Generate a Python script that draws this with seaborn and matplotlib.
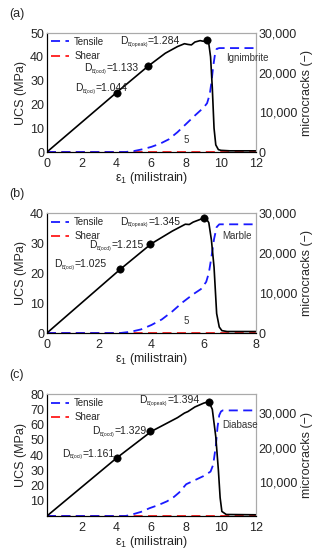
import numpy as np
import pandas as pd
import matplotlib
matplotlib.use("Agg")
import matplotlib.pyplot as plt
import seaborn as sns

sns.set_style("white")
plt.rcParams['font.family'] = ['Liberation Sans', 'DejaVu Sans']
plt.rcParams['mathtext.fontset'] = 'custom'
plt.rcParams['mathtext.rm'] = 'Liberation Sans'
plt.rcParams['mathtext.it'] = 'Liberation Sans'
plt.rcParams['mathtext.default'] = 'regular'

# ---------------- data ----------------
# (a) Ignimbrite
eps_a = [0, 4.0, 5.8, 6.8, 7.5, 7.9, 8.1, 8.3, 8.5, 8.8, 9.0, 9.2, 9.3, 9.4, 9.5, 9.6, 9.7, 9.85, 10.0, 10.5, 12]
ucs_a = [0, 25, 36, 41.5, 44.3, 45.5, 45.2, 45.0, 46.2, 46.8, 46.5, 47, 45.5, 40, 27, 10, 3, 1, 0.7, 0.5, 0.5]
teps_a = [0, 4.5, 5.0, 5.5, 6.0, 6.5, 7.0, 7.5, 8.0, 8.5, 9.0, 9.2, 9.35, 9.45, 9.55, 9.65, 9.75, 9.9, 12]
tens_a = [0, 0, 250, 700, 1300, 2100, 3200, 5000, 7100, 9200, 11200, 12300, 14500, 17500, 21500, 24500, 26000, 26200, 26200]
seps_a = [0, 8, 12]
shear_a = [0, 3, 5]
pts_a = [4.0, 5.8, 9.2]
pucs_a = [25, 36, 47]
lab_a = ["1.044", "1.133", "1.284"]

# (b) Marble
eps_b = [0, 2.8, 4.0, 4.8, 5.3, 5.45, 5.6, 5.9, 6.0, 6.1, 6.2, 6.3, 6.4, 6.5, 6.6, 6.7, 6.9, 8]
ucs_b = [0, 21.2, 29.8, 34, 36.3, 36.2, 37, 38, 38.5, 38.2, 36.8, 31, 22, 6.5, 2, 0.8, 0.5, 0.5]
teps_b = [0, 2.8, 3.2, 3.6, 4.0, 4.4, 4.8, 5.2, 5.6, 5.9, 6.1, 6.2, 6.3, 6.4, 6.5, 6.6, 8]
tens_b = [0, 0, 300, 900, 2000, 3400, 5400, 7700, 9700, 11000, 12800, 15000, 19000, 23500, 26500, 27200, 27200]
seps_b = [0, 5, 8]
shear_b = [0, 3, 5]
pts_b = [2.8, 3.95, 6.0]
pucs_b = [21.2, 29.8, 38.5]
lab_b = ["1.025", "1.215", "1.345"]

# (c) Diabase
eps_c = [0, 4.0, 6.0, 7.0, 7.5, 7.9, 8.1, 8.5, 9.0, 9.3, 9.5, 9.7, 9.85, 9.95, 10.05, 10.3, 12]
ucs_c = [0, 38, 55.5, 61.5, 64.5, 67.5, 68.5, 71.5, 74, 75, 70, 52, 30, 12, 3, 1, 0.8]
teps_c = [0, 4.5, 4.8, 5.4, 5.9, 6.4, 6.9, 7.3, 7.6, 8.0, 8.5, 9.0, 9.4, 9.55, 9.7, 9.8, 9.9, 10.0, 10.1, 12]
tens_c = [0, 0, 300, 1200, 2300, 3200, 4300, 5600, 6900, 9300, 10500, 11700, 13000, 15000, 20400, 26000, 29500, 30600, 30900, 30900]
seps_c = [0, 6, 12]
shear_c = [0, 3, 5]
pts_c = [4.0, 5.95, 9.3]
pucs_c = [38, 55.5, 75]
lab_c = ["1.161", "1.329", "1.394"]

sub_names = ["B(oci)", "B(ocd)", "B(opeak)"]

panels = [
    dict(tag="(a)", eps=eps_a, ucs=ucs_a, teps=teps_a, tens=tens_a, seps=seps_a, shear=shear_a,
         pts=pts_a, pucs=pucs_a, labs=lab_a, rock="Ignimbrite",
         xlim=(0, 12), xticks=[0, 2, 4, 6, 8, 10, 12], ylim=(0, 50), yticks=[0, 10, 20, 30, 40, 50],
         rlim=(0, 30000), rticks=[0, 10000, 20000, 30000],
         pos=[0.148, 0.7236, 0.659, 0.2164],
         txt=[(4.65, 25.5), (5.25, 33.9), (7.64, 45.5)], rockpos=(10.3, 39.5), five=(8.0, 1800)),
    dict(tag="(b)", eps=eps_b, ucs=ucs_b, teps=teps_b, tens=tens_b, seps=seps_b, shear=shear_b,
         pts=pts_b, pucs=pucs_b, labs=lab_b, rock="Marble",
         xlim=(0, 8), xticks=[0, 2, 4, 6, 8], ylim=(0, 40), yticks=[0, 10, 20, 30, 40],
         rlim=(0, 30000), rticks=[0, 10000, 20000, 30000],
         pos=[0.148, 0.3945, 0.659, 0.218],
         txt=[(2.3, 22.0), (3.7, 28.3), (5.1, 36.2)], rockpos=(6.72, 32.5), five=(5.35, 1800)),
    dict(tag="(c)", eps=eps_c, ucs=ucs_c, teps=teps_c, tens=tens_c, seps=seps_c, shear=shear_c,
         pts=pts_c, pucs=pucs_c, labs=lab_c, rock="Diabase",
         xlim=(0, 12), xticks=[2, 4, 6, 8, 10, 12], ylim=(0, 80), yticks=[10, 20, 30, 40, 50, 60, 70, 80],
         rlim=(0, 35700), rticks=[10000, 20000, 30000],
         pos=[0.148, 0.0618, 0.659, 0.2218],
         txt=[(3.9, 39.0), (5.75, 54.0), (8.75, 74.0)], rockpos=(10.1, 60.0), five=None),
]

fig = plt.figure(figsize=(3.17, 5.5), dpi=100)
TXT_COL = "#222222"

for p in panels:
    ax = fig.add_axes(p["pos"])
    ax2 = ax.twinx()
    ax.set_zorder(ax2.get_zorder() + 1)
    ax.patch.set_visible(False)

    dft = pd.DataFrame({"eps": p["teps"], "n": p["tens"]})
    dfs = pd.DataFrame({"eps": p["seps"], "n": p["shear"]})
    sns.lineplot(data=dfs, x="eps", y="n", ax=ax2, color="#ff1a1a", lw=1.3,
                 linestyle=(0, (5, 3)), label="Shear", legend=False)
    sns.lineplot(data=dft, x="eps", y="n", ax=ax2, color="#1a1aff", lw=1.3,
                 linestyle=(0, (5, 3)), label="Tensile", legend=False)

    dfu = pd.DataFrame({"eps": p["eps"], "ucs": p["ucs"]})
    sns.lineplot(data=dfu, x="eps", y="ucs", ax=ax, color="black", lw=1.2)
    dfp = pd.DataFrame({"eps": p["pts"], "ucs": p["pucs"]})
    sns.scatterplot(data=dfp, x="eps", y="ucs", ax=ax, color="black", s=28, zorder=5, edgecolor="black")

    ax.set_xlim(*p["xlim"])
    ax.set_ylim(*p["ylim"])
    ax2.set_ylim(*p["rlim"])

    for (tx, ty), sub, val in zip(p["txt"], sub_names, p["labs"]):
        t_val = ax.text(tx, ty, "=" + val, ha="right", va="baseline", fontsize=7.5, color=TXT_COL)
        t_sub = ax.annotate(sub, xy=(0, 0), xycoords=t_val, xytext=(0, -0.6), textcoords="offset points",
                            ha="right", va="bottom", fontsize=3.6, color=TXT_COL)
        ax.annotate("D", xy=(0, 0), xycoords=(t_sub, t_val), ha="right", va="bottom",
                    fontsize=7.5, color=TXT_COL)

    ax.text(p["rockpos"][0], p["rockpos"][1], p["rock"], fontsize=7, color="#333333", ha="left", va="center")
    if p["five"] is not None:
        ax2.text(p["five"][0], p["five"][1], "5", fontsize=7, color="#333333", ha="center", va="bottom")

    ax.set_xticks(p["xticks"])
    ax.set_yticks(p["yticks"])
    ax2.set_yticks(p["rticks"])
    ax2.set_yticklabels(["{:,}".format(v) for v in p["rticks"]])
    ax.tick_params(axis="y", labelsize=9, length=0, pad=2)
    ax.tick_params(axis="x", labelsize=9, length=0, pad=4)
    ax2.tick_params(labelsize=9, length=0, pad=2)
    ax.set_xlabel(r"ε$_{1}$ (milistrain)", fontsize=9, labelpad=0)
    ax.set_ylabel("UCS (MPa)", fontsize=9, labelpad=2)
    ax2.set_ylabel("microcracks (−)", fontsize=9, labelpad=3)

    for a in (ax, ax2):
        for side in ["top", "right"]:
            a.spines[side].set_color("#aaaaaa")
            a.spines[side].set_linewidth(0.8)
        for side in ["left", "bottom"]:
            a.spines[side].set_color("black")
            a.spines[side].set_linewidth(0.8)

    h2, l2 = ax2.get_legend_handles_labels()
    order = [l2.index("Tensile"), l2.index("Shear")]
    ax.legend([h2[i] for i in order], [l2[i] for i in order], loc="upper left", fontsize=7,
              frameon=False, handlelength=1.9, borderaxespad=0.1, borderpad=0.3, labelspacing=0.45,
              handletextpad=0.5)

    fig.text(0.03, p["pos"][1] + p["pos"][3] + 0.034, p["tag"], fontsize=9, ha="left", va="center")

fig.savefig("out.png", dpi=100)
